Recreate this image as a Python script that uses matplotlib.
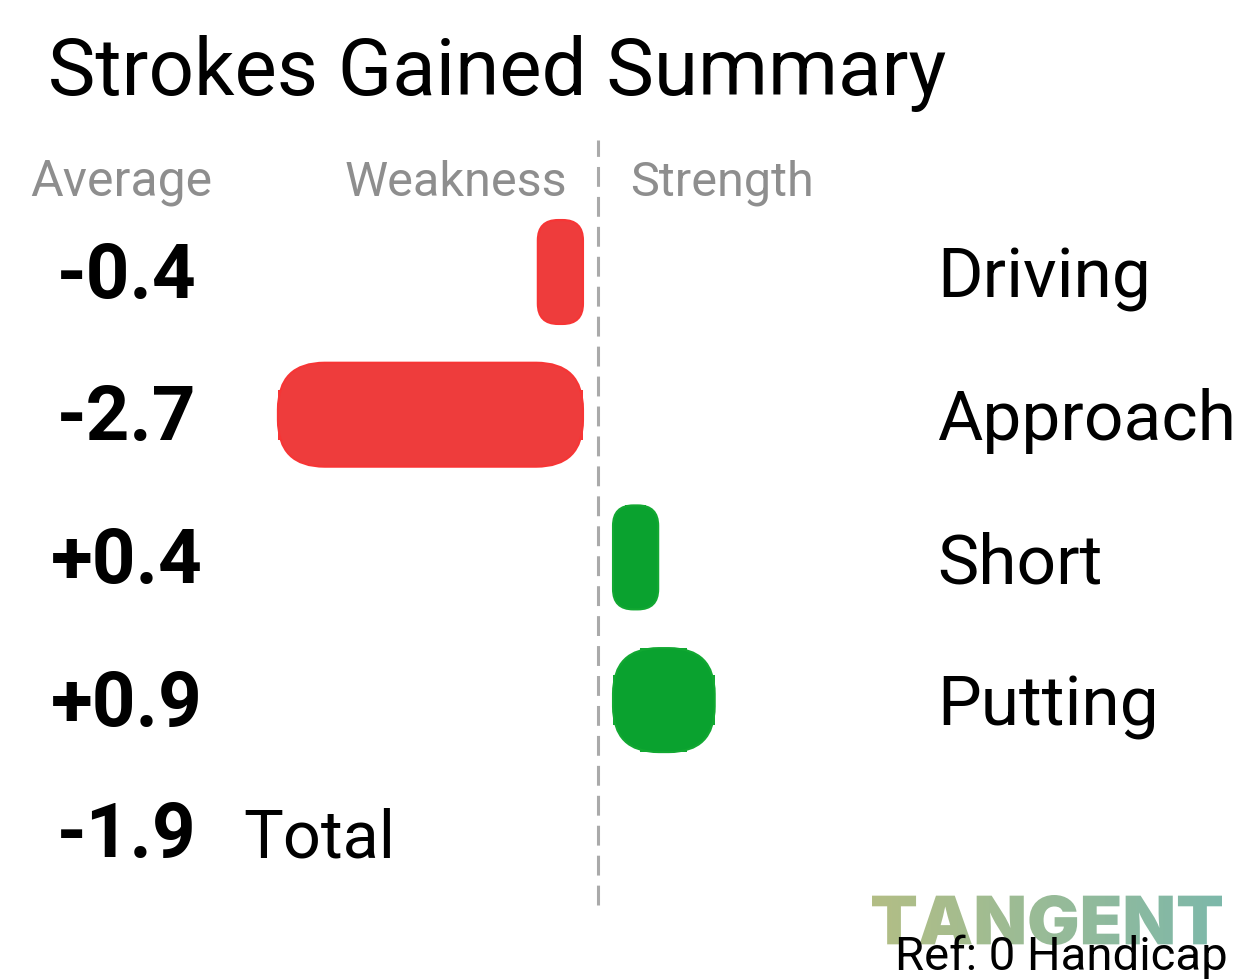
import numpy as np
import matplotlib
matplotlib.use('Agg')
import matplotlib.pyplot as plt
from matplotlib.patches import FancyBboxPatch, Rectangle, PathPatch
from matplotlib.textpath import TextPath
from matplotlib.font_manager import FontProperties
from matplotlib.transforms import Affine2D
from matplotlib.colors import LinearSegmentedColormap

# data
categories = ['Driving', 'Approach', 'Short', 'Putting']
strokes_gained = [-0.4, -2.7, 0.4, 0.9]
total_label = 'Total'
total_value = -1.9
headers = ['Average', 'Weakness', 'Strength']
title = 'Strokes Gained Summary'
ref_text = 'Ref: 0 Handicap'
logo_text = 'TANGENT'

RED, RED_EDGE = '#ee3c3c', '#f73535'
GREEN, GREEN_EDGE = '#0aa22f', '#12a832'
GREY = '#8e8e8e'
FONT = 'Roboto'

W, H = 1260, 980
ZERO_PX, X_SCALE = 598, 113.0
ROW0_PX, ROW_PX = 272, 142.7
GAP = 15 / X_SCALE
BAR_H = 104 / ROW_PX

fig = plt.figure(figsize=(W / 100, H / 100), dpi=100)
ax = fig.add_axes([0, 0, 1, 1])
ax.axis('off')
ax.set_xlim(-ZERO_PX / X_SCALE, (W - ZERO_PX) / X_SCALE)
ax.set_ylim((H - ROW0_PX) / ROW_PX, -ROW0_PX / ROW_PX)


def fx(x):
    return x / W


def fy(y):
    return 1 - y / H


# centre dashed line
ax.axvline(0, ymin=1 - 905 / H, ymax=1 - 140 / H, color='#aaaaaa', lw=2.2,
           linestyle=(0, (6.5, 3.3)))

aspect = X_SCALE / ROW_PX
ytr = ax.get_yaxis_transform()
for i, (cat, v) in enumerate(zip(categories, strokes_gained)):
    fill, edge = (GREEN, GREEN_EDGE) if v >= 0 else (RED, RED_EDGE)
    w = abs(v)
    x0 = GAP if v >= 0 else -GAP - w
    y0 = i - BAR_H / 2
    r = 0.45 * min(w * X_SCALE, BAR_H * ROW_PX) / X_SCALE
    # flat notches of the rounded bar
    ax.add_patch(Rectangle((x0 + 0.27 * w, y0), 0.46 * w, BAR_H, color=edge, lw=0))
    ax.add_patch(Rectangle((x0, y0 + 0.26 * BAR_H), w, 0.48 * BAR_H, color=edge, lw=0))
    ax.add_patch(FancyBboxPatch((x0, y0), w, BAR_H,
                                boxstyle=f'round,pad=0,rounding_size={r}',
                                mutation_aspect=aspect, facecolor=fill,
                                edgecolor=edge, lw=1.5))
    ax.text(fx(127), i + 0.18, f'{v:+.1f}', transform=ytr,
            ha='center', va='baseline', fontsize=55, fontweight='bold', family=FONT)
    ax.text(fx(937), i + 0.18, cat, transform=ytr,
            ha='left', va='baseline', fontsize=50, family=FONT)

# total row
ty = len(categories) - 0.08
ax.text(fx(127), ty + 0.18, f'{total_value:+.1f}', transform=ytr,
        ha='center', va='baseline', fontsize=55, fontweight='bold', family=FONT)
ax.text(fx(243), ty + 0.18, total_label, transform=ytr,
        ha='left', va='baseline', fontsize=48, family=FONT)

# title and headers
fig.text(fx(48), fy(95), title, ha='left', va='baseline', fontsize=57.5, family=FONT)
fig.text(fx(30), fy(196), headers[0], ha='left', va='baseline', fontsize=36,
         color=GREY, family=FONT)
fig.text(fx(567), fy(196), headers[1], ha='right', va='baseline', fontsize=35,
         color=GREY, family=FONT)
fig.text(fx(630), fy(196), headers[2], ha='left', va='baseline', fontsize=35,
         color=GREY, family=FONT)

# logo with gradient fill
lax = fig.add_axes([0, 0, 1, 1], zorder=-1)
lax.axis('off')
lax.set_xlim(0, W)
lax.set_ylim(0, H)
tp = TextPath((0, 0), logo_text, size=100, prop=FontProperties(family='Inter', weight='black'))
ext = tp.get_extents()
bx0, bx1, by0, by1 = 872, 1222, H - 945, H - 895
tr = Affine2D().translate(-ext.x0, -ext.y0).scale((bx1 - bx0) / ext.width,
                                                  (by1 - by0) / ext.height).translate(bx0, by0)
patch = PathPatch(tr.transform_path(tp), facecolor='none', edgecolor='none')
lax.add_patch(patch)
cmap = LinearSegmentedColormap.from_list('logo', ['#b3be85', '#7db8aa'])
grad = np.linspace(0, 1, 256).reshape(1, -1)
im = lax.imshow(grad, cmap=cmap, extent=(bx0, bx1, by0, by1), aspect='auto', origin='lower')
im.set_clip_path(patch)

fig.text(fx(1228), fy(970), ref_text, ha='right', va='baseline', fontsize=34, family=FONT)

fig.savefig('out.png', dpi=100)
